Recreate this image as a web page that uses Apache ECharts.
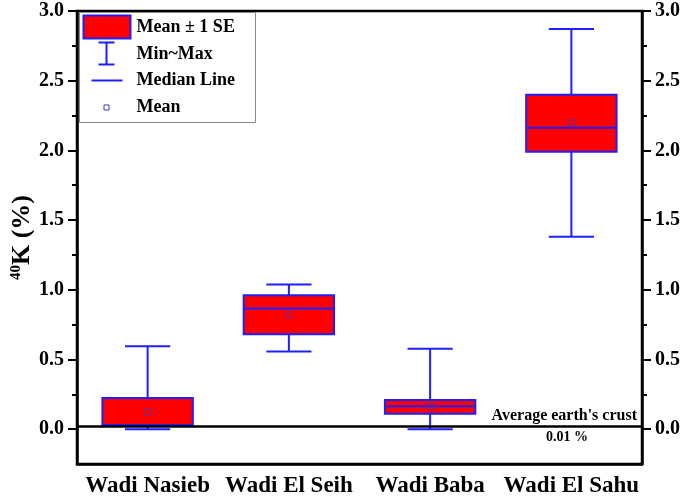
<!DOCTYPE html>
<html>
<head>
<meta charset="utf-8">
<script src="https://cdn.jsdelivr.net/npm/echarts@6/dist/echarts.min.js"></script>
<style>html,body{margin:0;padding:0;background:#fff}#c{width:685px;height:502px}</style>
</head>
<body>
<div id="c"></div>
<script>
var categories = ['Wadi Nasieb', 'Wadi El Seih', 'Wadi Baba', 'Wadi El Sahu'];
var minVals   = [0.00, 0.557, 0.00, 1.38];
var maxVals   = [0.595, 1.037, 0.576, 2.87];
var seLow     = [0.03, 0.68, 0.11, 1.99];
var seHigh    = [0.224, 0.96, 0.21, 2.40];
var medians   = [0.03, 0.865, 0.165, 2.163];
var means     = [0.124, 0.82, 0.16, 2.198];
var majorTicks = [0, 0.5, 1.0, 1.5, 2.0, 2.5, 3.0];
var minorTicks = [0.25, 0.75, 1.25, 1.75, 2.25, 2.75];
var crustValue = 0.02;
var crustLabel = "Average earth's crust";
var crustPct = '0.01 %';

var FONT = '"Liberation Serif", "Times New Roman", serif';
var BLUE = '#1f1fff';

var boxData = categories.map(function (c, i) {
  return [i, minVals[i], seLow[i], medians[i], seHigh[i], maxVals[i]];
});
var meanData = categories.map(function (c, i) { return [i, means[i]]; });

function renderBox(params, api) {
  var i = api.value(0);
  var x = api.coord([i, 0])[0];
  var band = api.size([1, 0])[0];
  var bw = band * 0.64, cw = bw * 0.5;
  var yMin = api.coord([i, api.value(1)])[1];
  var yLo = api.coord([i, api.value(2)])[1];
  var yMed = api.coord([i, api.value(3)])[1];
  var yHi = api.coord([i, api.value(4)])[1];
  var yMax = api.coord([i, api.value(5)])[1];
  var ls = { stroke: BLUE, lineWidth: 2 };
  return {
    type: 'group',
    children: [
      { type: 'line', shape: { x1: x, y1: yMax, x2: x, y2: yHi }, style: ls },
      { type: 'line', shape: { x1: x, y1: yLo, x2: x, y2: yMin }, style: ls },
      { type: 'line', shape: { x1: x - cw / 2, y1: yMax, x2: x + cw / 2, y2: yMax }, style: ls },
      { type: 'line', shape: { x1: x - cw / 2, y1: yMin, x2: x + cw / 2, y2: yMin }, style: ls },
      { type: 'rect', shape: { x: x - bw / 2, y: yHi, width: bw, height: yLo - yHi },
        style: { fill: '#ff0000', stroke: BLUE, lineWidth: 2 } },
      { type: 'line', shape: { x1: x - bw / 2, y1: yMed, x2: x + bw / 2, y2: yMed }, style: ls }
    ]
  };
}

function yAx(pos, ticks, len, showLine, showLabel, extra) {
  var a = {
    type: 'value', position: pos, min: -0.25, max: 3.0,
    splitLine: { show: false },
    axisLine: { show: showLine, onZero: false, lineStyle: { color: '#000', width: 2.5 } },
    axisTick: { show: true, customValues: ticks, length: len, lineStyle: { color: '#000', width: 2 } },
    axisLabel: { show: showLabel, customValues: ticks, margin: 13,
      formatter: function (v) { return v.toFixed(1); },
      fontFamily: FONT, fontWeight: 'bold', fontSize: 20, color: '#000' }
  };
  if (extra) for (var k in extra) a[k] = extra[k];
  return a;
}

var chart = echarts.init(document.getElementById('c'));
chart.setOption({
  animation: false,
  backgroundColor: '#fff',
  grid: { left: 77, right: 43, top: 11, bottom: 38, outerBoundsMode: 'none', containLabel: false,
    show: true, borderColor: '#000', borderWidth: 2.5, backgroundColor: 'transparent' },
  xAxis: {
    type: 'category', data: categories, boundaryGap: true, position: 'bottom',
    axisLine: { onZero: false, lineStyle: { color: '#000', width: 2.5 } },
    axisTick: { alignWithLabel: true, length: 8, lineStyle: { color: '#000', width: 2 } },
    axisLabel: { interval: 0, hideOverlap: false, fontFamily: FONT, fontWeight: 'bold', fontSize: 23, color: '#000', margin: 11 }
  },
  yAxis: [
    yAx('left', majorTicks, 9, true, true, {
      name: '{s|40}{k|K (%)}', nameLocation: 'middle', nameGap: 42, nameRotate: 90, nameMoveOverlap: false,
      nameTextStyle: { rich: {
        s: { fontFamily: FONT, fontWeight: 'bold', fontSize: 15, color: '#000', verticalAlign: 'top', padding: [0, 0, 10, 0] },
        k: { fontFamily: FONT, fontWeight: 'bold', fontSize: 26, color: '#000' }
      } }
    }),
    yAx('left', minorTicks, 5, false, false),
    yAx('right', majorTicks, 9, true, true),
    yAx('right', minorTicks, 5, false, false)
  ],
  series: [
    { name: 'Mean ± 1 SE', type: 'custom', renderItem: renderBox, data: boxData, z: 2,
      encode: { x: 0, y: [1, 5] } },
    { name: 'Mean', type: 'scatter', data: meanData, symbol: 'rect', symbolSize: 6, z: 4,
      itemStyle: { color: 'rgba(0,0,0,0)', borderColor: '#3838c8', borderWidth: 1 },
      markLine: {
        silent: true, symbol: 'none', animation: false,
        lineStyle: { color: '#000', width: 2.5, type: 'solid' },
        data: [
          { yAxis: crustValue, label: { show: true, position: 'insideEndTop', formatter: crustLabel, distance: 3,
              fontFamily: FONT, fontWeight: 'bold', fontSize: 16, color: '#000', padding: [0, 2, 0, 0] } },
          { yAxis: crustValue, lineStyle: { color: 'rgba(0,0,0,0)' },
            label: { show: true, position: 'insideEndBottom', formatter: crustPct, distance: 4,
              fontFamily: FONT, fontWeight: 'bold', fontSize: 14, color: '#000', padding: [0, 50, 0, 0] } }
        ]
      }
    }
  ],
  graphic: [
    { type: 'group', left: 79, top: 12, children: [
      { type: 'rect', shape: { x: 0, y: 0, width: 176, height: 110 }, style: { fill: '#fff', stroke: '#888', lineWidth: 1 } },
      { type: 'rect', shape: { x: 4, y: 3, width: 47, height: 23 }, style: { fill: '#ff0000', stroke: BLUE, lineWidth: 2 } },
      { type: 'text', x: 57, y: 15, style: { text: 'Mean ± 1 SE', fontFamily: FONT, fontWeight: 'bold', fontSize: 18, fill: '#000', verticalAlign: 'middle' } },
      { type: 'line', shape: { x1: 27, y1: 30, x2: 27, y2: 52 }, style: { stroke: BLUE, lineWidth: 2 } },
      { type: 'line', shape: { x1: 19, y1: 30, x2: 35, y2: 30 }, style: { stroke: BLUE, lineWidth: 2 } },
      { type: 'line', shape: { x1: 19, y1: 52, x2: 35, y2: 52 }, style: { stroke: BLUE, lineWidth: 2 } },
      { type: 'text', x: 57, y: 42, style: { text: 'Min~Max', fontFamily: FONT, fontWeight: 'bold', fontSize: 18, fill: '#000', verticalAlign: 'middle' } },
      { type: 'line', shape: { x1: 12, y1: 68, x2: 43, y2: 68 }, style: { stroke: BLUE, lineWidth: 2 } },
      { type: 'text', x: 57, y: 68, style: { text: 'Median Line', fontFamily: FONT, fontWeight: 'bold', fontSize: 18, fill: '#000', verticalAlign: 'middle' } },
      { type: 'rect', shape: { x: 24.5, y: 92.5, width: 5, height: 5 }, style: { fill: 'none', stroke: '#3838c8', lineWidth: 1 } },
      { type: 'text', x: 57, y: 95, style: { text: 'Mean', fontFamily: FONT, fontWeight: 'bold', fontSize: 18, fill: '#000', verticalAlign: 'middle' } }
    ] }
  ]
});
</script>
</body>
</html>
